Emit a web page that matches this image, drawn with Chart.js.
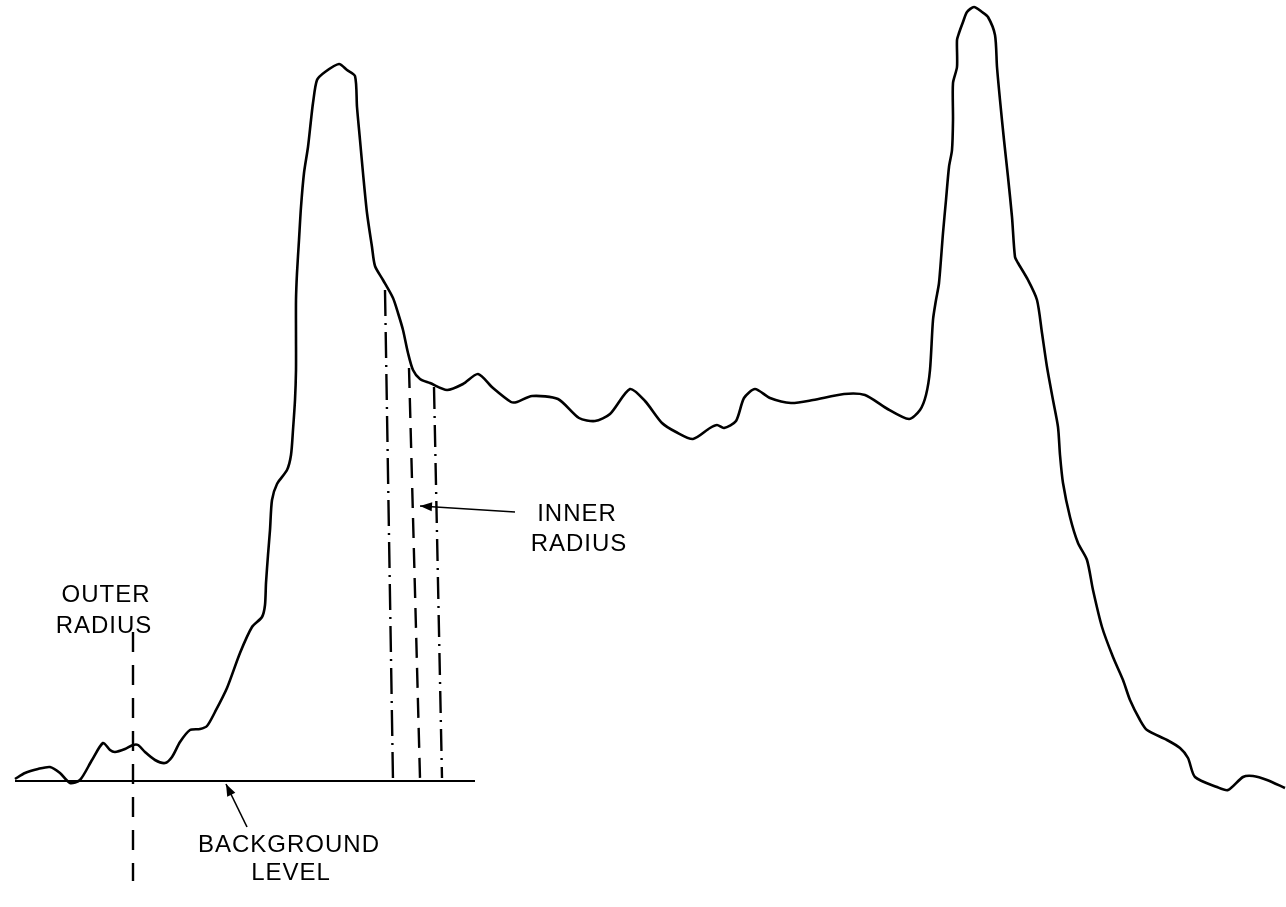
<!DOCTYPE html>
<html>
<head>
<meta charset="utf-8">
<script src="https://cdn.jsdelivr.net/npm/chart.js@4/dist/chart.umd.min.js"></script>
<style>
  html, body { margin: 0; padding: 0; background: #ffffff; }
  canvas { display: block; }
</style>
</head>
<body>
<canvas id="c" width="1286" height="907"></canvas>
<script>
// Radial profile: position (arbitrary units) and intensity above background level
const radius = [15,25,38,50,60,70,80,92,103,110,115,125,133,138,145,155,165,172,180,190,200,207,215,227,240,252,262,265,266,268,270,272,277,287,291,293,295,296,296,296,297,299,301,304,308,311,313,317,325,339,347,355,357,360,363,367,372,375,383,393,398,403,408,413,420,430,447,463,478,493,511,517,532,558,579,595,610,630,645,662,676,693,710,717,724,736,744,755,770,791,813,844,865,886,909,920,926,930,933,936,939,943,946,949,952,953,953,957,957,959,963,967,974,982,988,995,997,1000,1004,1008,1012,1015,1018,1028,1037,1042,1047,1053,1058,1060,1063,1070,1078,1087,1093,1102,1113,1123,1130,1140,1147,1167,1180,1188,1195,1217,1228,1243,1253,1267,1285];
const intensity = [2,8,12,14,8,-2,1,21,38,31,29,32,36,36,29,21,18,24,39,51,52,55,69,93,128,154,164,176,198,226,251,281,297,311,326,351,381,411,444,481,508,541,574,608,634,661,678,701,709,717,711,705,674,641,608,568,534,515,501,483,468,451,428,411,402,398,391,397,407,393,379,379,385,382,363,360,367,392,380,358,349,342,353,356,353,360,383,392,383,378,381,387,386,373,362,371,386,411,461,481,498,548,581,614,631,661,698,714,741,748,759,769,774,769,764,746,714,681,641,604,564,524,518,501,481,448,414,381,354,326,298,264,238,221,191,154,124,101,81,61,51,41,33,23,4,-6,-9,4,5,1,-7];

// Background level line
const backgroundX = [15, 475];
const backgroundY = [0, 0];

// Outer radius marker
const outerRadiusX = [133, 133];
const outerRadiusY = [149, -100];

// Inner radius markers (three trial positions)
const innerAX = [385, 393]; const innerAY = [491, 0];
const innerBX = [409, 420]; const innerBY = [413, 3];
const innerCX = [434, 442]; const innerCY = [394, 3];

function pts(xs, ys) { return xs.map((x, i) => ({ x: x, y: ys[i] })); }

const annotationPlugin = {
  id: 'annotations',
  beforeDraw(chart) {
    const ctx = chart.ctx;
    ctx.save();
    ctx.fillStyle = '#ffffff';
    ctx.fillRect(0, 0, chart.width, chart.height);
    ctx.restore();
  },
  afterDatasetsDraw(chart) {
    const ctx = chart.ctx;
    const xs = chart.scales.x, ys = chart.scales.y;
    const X = v => xs.getPixelForValue(v);
    const Y = v => ys.getPixelForValue(v);
    ctx.save();
    ctx.strokeStyle = '#000';
    ctx.fillStyle = '#000';
    function arrow(x1, y1, x2, y2) {
      const px1 = X(x1), py1 = Y(y1), px2 = X(x2), py2 = Y(y2);
      ctx.lineWidth = 1.6;
      ctx.beginPath(); ctx.moveTo(px1, py1); ctx.lineTo(px2, py2); ctx.stroke();
      const a = Math.atan2(py2 - py1, px2 - px1);
      const L = 12, W = 4.5;
      ctx.beginPath();
      ctx.moveTo(px2, py2);
      ctx.lineTo(px2 - L * Math.cos(a) + W * Math.sin(a), py2 - L * Math.sin(a) - W * Math.cos(a));
      ctx.lineTo(px2 - L * Math.cos(a) - W * Math.sin(a), py2 - L * Math.sin(a) + W * Math.cos(a));
      ctx.closePath(); ctx.fill();
    }
    arrow(247, -46, 226, -3);
    arrow(515, 269, 420, 275);
    ctx.font = '24px "Liberation Sans", Arial, sans-serif';
    ctx.textAlign = 'center';
    ctx.textBaseline = 'alphabetic';
    try { ctx.letterSpacing = '1px'; } catch (e) {}
    const labels = [
      ['OUTER', 106, 179], ['RADIUS', 104, 148],
      ['INNER', 577, 260], ['RADIUS', 579, 230],
      ['BACKGROUND', 289, -71], ['LEVEL', 291, -99]
    ];
    labels.forEach(l => ctx.fillText(l[0], X(l[1]), Y(l[2])));
    ctx.restore();
  }
};

new Chart(document.getElementById('c'), {
  type: 'scatter',
  data: {
    datasets: [
      { label: 'Profile', data: pts(radius, intensity), showLine: true, borderColor: '#000', borderWidth: 2.6, pointRadius: 0, tension: 0.25, fill: false },
      { label: 'Background', data: pts(backgroundX, backgroundY), showLine: true, borderColor: '#000', borderWidth: 2, pointRadius: 0 },
      { label: 'Outer radius', data: pts(outerRadiusX, outerRadiusY), showLine: true, borderColor: '#000', borderWidth: 2.4, pointRadius: 0, borderDash: [20, 13] },
      { label: 'Inner A', data: pts(innerAX, innerAY), showLine: true, borderColor: '#000', borderWidth: 2.4, pointRadius: 0, borderDash: [26, 7, 2, 7] },
      { label: 'Inner B', data: pts(innerBX, innerBY), showLine: true, borderColor: '#000', borderWidth: 2.4, pointRadius: 0, borderDash: [20, 10] },
      { label: 'Inner C', data: pts(innerCX, innerCY), showLine: true, borderColor: '#000', borderWidth: 2.4, pointRadius: 0, borderDash: [22, 7, 2, 7] }
    ]
  },
  options: {
    responsive: false,
    animation: false,
    devicePixelRatio: 1,
    layout: { padding: 0 },
    plugins: { legend: { display: false }, tooltip: { enabled: false } },
    scales: {
      x: { type: 'linear', min: 0, max: 1286, display: false },
      y: { type: 'linear', min: -126, max: 781, display: false }
    }
  },
  plugins: [annotationPlugin]
});
</script>
</body>
</html>
